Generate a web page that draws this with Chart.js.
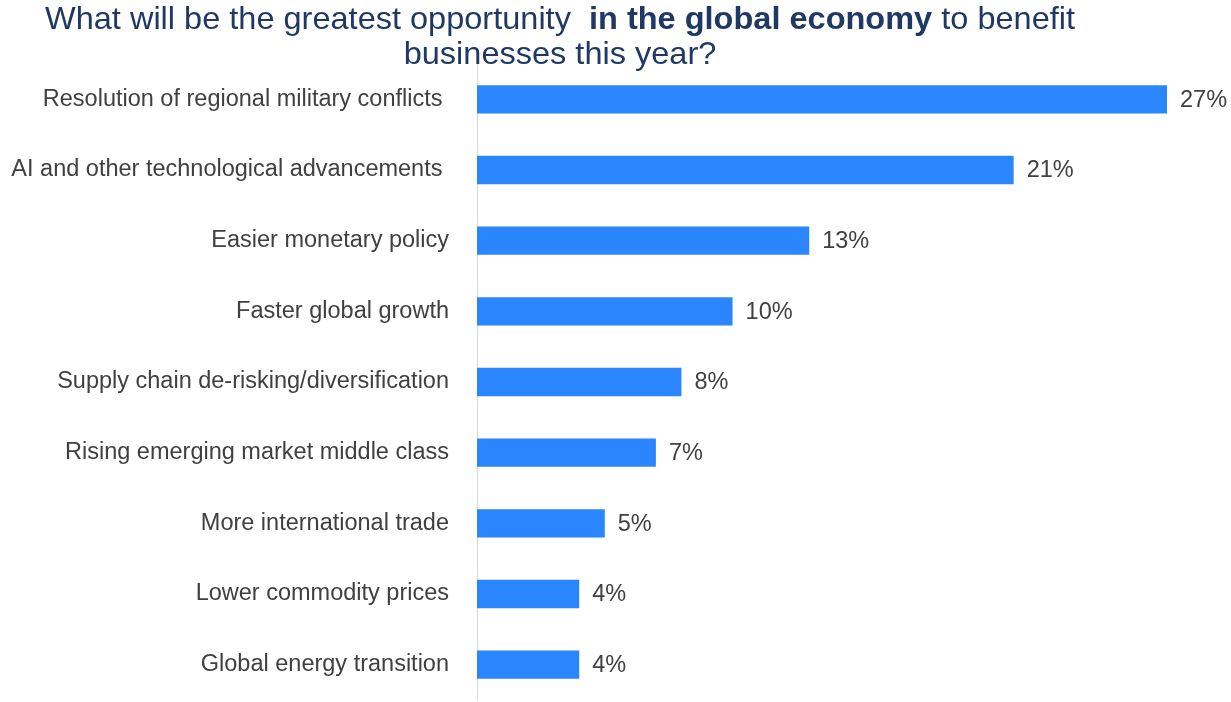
<!DOCTYPE html>
<html>
<head>
<meta charset="utf-8">
<style>
  html, body { margin: 0; padding: 0; background: #ffffff; }
  #wrap { width: 1231px; height: 702px; position: relative; }
</style>
<script src="https://cdn.jsdelivr.net/npm/chart.js@4.4.1/dist/chart.umd.min.js"></script>
</head>
<body>
<div id="wrap"><canvas id="chart" width="1231" height="702"></canvas></div>
<script>
// Survey answers, top to bottom
const categories = [
  'Resolution of regional military conflicts ',
  'AI and other technological advancements ',
  'Easier monetary policy',
  'Faster global growth',
  'Supply chain de-risking/diversification',
  'Rising emerging market middle class',
  'More international trade',
  'Lower commodity prices',
  'Global energy transition'
];
const shares = [27, 21, 13, 10, 8, 7, 5, 4, 4];
const valueLabels = ['27%', '21%', '13%', '10%', '8%', '7%', '5%', '4%', '4%'];

// Title is set in two lines, with a bold phrase in the middle of the first
const titleLine1 = [
  { text: 'What will be the greatest opportunity  ', bold: false },
  { text: 'in the global economy', bold: true },
  { text: ' to benefit', bold: false }
];
const titleLine2 = [{ text: 'businesses this year?', bold: false }];

const FONT = '"Liberation Sans", Arial, sans-serif';
const TEXT_GREY = '#404040';
const LABEL_SIZE = 23.5;

const titlePlugin = {
  id: 'twoLineTitle',
  afterDraw(chart) {
    const ctx = chart.ctx;
    const size = 32;
    const centerX = 560;
    const measure = (parts) => parts.reduce((w, p) => {
      ctx.font = (p.bold ? 'bold ' : '') + size + 'px ' + FONT;
      return w + ctx.measureText(p.text).width;
    }, 0);
    const w1 = measure(titleLine1);
    const sx = 1030 / w1;   // the heading is set in a condensed width
    const drawLine = (parts, baseline) => {
      const w = measure(parts) * sx;
      ctx.save();
      ctx.translate(centerX - w / 2, baseline);
      ctx.scale(sx, 1);
      ctx.fillStyle = '#1f3864';
      ctx.textBaseline = 'alphabetic';
      ctx.textAlign = 'left';
      let x = 0;
      parts.forEach(p => {
        ctx.font = (p.bold ? 'bold ' : '') + size + 'px ' + FONT;
        ctx.fillText(p.text, x, 0);
        x += ctx.measureText(p.text).width;
      });
      ctx.restore();
    };
    ctx.save();
    drawLine(titleLine1, 29);
    drawLine(titleLine2, 64);
    ctx.restore();
  }
};

const valueLabelPlugin = {
  id: 'valueLabels',
  afterDatasetsDraw(chart) {
    const ctx = chart.ctx;
    const meta = chart.getDatasetMeta(0);
    ctx.save();
    ctx.font = LABEL_SIZE + 'px ' + FONT;
    ctx.fillStyle = TEXT_GREY;
    ctx.textAlign = 'left';
    ctx.textBaseline = 'middle';
    meta.data.forEach((bar, i) => {
      ctx.fillText(valueLabels[i], bar.x + 13, bar.y + 1);
    });
    ctx.restore();
  }
};

new Chart(document.getElementById('chart'), {
  type: 'bar',
  data: {
    labels: categories,
    datasets: [{
      data: shares,
      backgroundColor: '#2b86fd',
      borderWidth: 0,
      barPercentage: 0.4,
      categoryPercentage: 1.0
    }]
  },
  options: {
    indexAxis: 'y',
    responsive: false,
    animation: false,
    layout: { padding: { top: 64, right: 64, bottom: 2, left: 0 } },
    plugins: {
      legend: { display: false },
      title: { display: false },
      tooltip: { enabled: false }
    },
    scales: {
      x: {
        display: false,
        min: 0,
        max: 27
      },
      y: {
        afterFit(scale) {
          scale.width = 477;
          scale.paddingTop = 0;
          scale.paddingBottom = 0;
        },
        grid: { display: false, drawTicks: false },
        border: { display: true, color: '#d9d9d9', width: 1 },
        ticks: {
          color: TEXT_GREY,
          font: { family: FONT, size: LABEL_SIZE },
          padding: 28,
          autoSkip: false
        }
      }
    }
  },
  plugins: [titlePlugin, valueLabelPlugin]
});
</script>
</body>
</html>
